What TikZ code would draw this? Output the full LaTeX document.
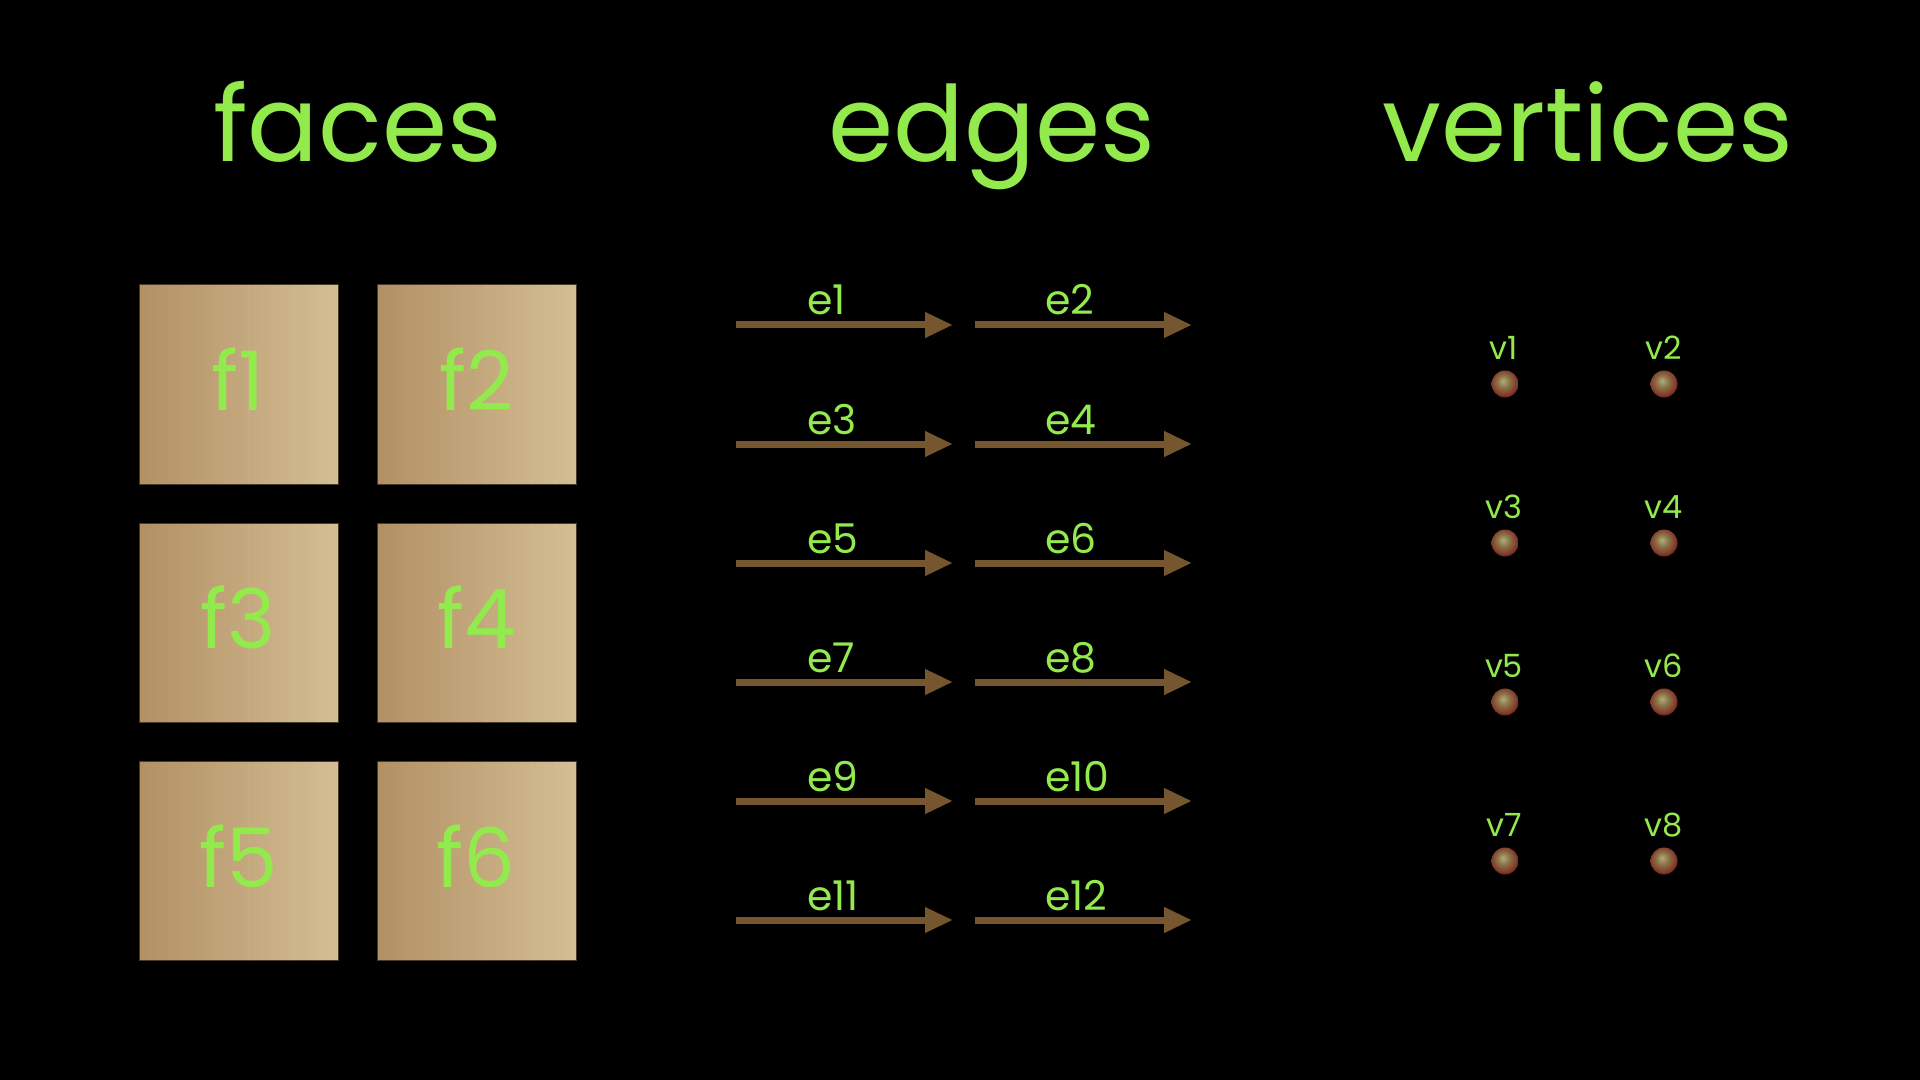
\documentclass[tikz,border=0pt]{standalone}
\usepackage{fontspec}
\setmainfont{Poppins}
\usetikzlibrary{arrows.meta,shadings,calc}
\definecolor{lbl}{RGB}{146,234,76}
\definecolor{card}{RGB}{178,144,100}
\definecolor{cardmid}{RGB}{186,154,110}
\definecolor{cardlight}{RGB}{212,190,148}
\definecolor{shaft}{RGB}{118,86,46}
\definecolor{vhi}{RGB}{175,172,125}
\definecolor{vmid}{RGB}{138,112,68}
\definecolor{vedge}{RGB}{130,60,45}
\definecolor{vdark}{RGB}{110,35,35}
\pgfdeclareradialshading{vball}{\pgfpoint{-4bp}{6bp}}{color(0bp)=(vhi); color(12bp)=(vmid); color(23bp)=(vedge); color(27bp)=(vdark); color(50bp)=(vdark)}
\tikzset{
  title/.style={text=lbl, font=\fontsize{52.5pt}{58pt}\selectfont, anchor=base, inner sep=0pt},
  facebox/.style={rectangle, minimum width=99.5pt, minimum height=99.5pt, inner sep=0pt,
     left color=card, middle color=cardmid, right color=cardlight, draw=black!60!card, line width=0.5pt},
  facetext/.style={text=lbl, font=\fontsize{41pt}{44pt}\selectfont, inner sep=0pt},
  edgearrow/.style={draw=shaft, line width=3.5pt, -{Triangle[length=14pt,width=12pt]}},
  elabel/.style={text=lbl, font=\fontsize{20.5pt}{22pt}\selectfont, anchor=base west, inner sep=0pt},
  vert/.style={circle, minimum size=13.5pt, inner sep=0pt, shading=vball},
  vlabel/.style={text=lbl, font=\fontsize{16pt}{18pt}\selectfont, anchor=base, inner sep=0pt}
}
\begin{document}
\begin{tikzpicture}[x=0.5pt,y=-0.5pt]
\fill[black] (0,0) rectangle (1920,1080);
\useasboundingbox (0,0) rectangle (1920,1080);
% titles
\node[title] (tf) at (358,162) {faces};
\node[title] (te) at (992,162) {edges};
\node[title] (tv) at (1588,162) {vertices};
% faces
\foreach \n/\x/\y in {1/238.5/384.5, 2/476.5/384.5, 3/238.5/622.5, 4/476.5/622.5, 5/238.5/861, 6/476.5/861}{
  \node[facebox] (f\n) at (\x,\y) {};
  \foreach \s in {0.55,0.78,0.9}{
    \draw[cardlight!70!white, opacity=0.1, line width=0.4pt]
      ($(f\n.south west)!\s!(f\n.south east)$) -- ($(f\n.north west)!\s!(f\n.north east)$);
  }
  \node[facetext] (lf\n) at ([yshift=2.5pt]f\n.center) {f\n};
}
% edges
\foreach \r in {0,...,5}{
  \pgfmathsetmacro{\yy}{325+119*\r}
  \pgfmathtruncatemacro{\na}{2*\r+1}
  \pgfmathtruncatemacro{\nb}{2*\r+2}
  \coordinate (e\na s) at (736,\yy);
  \coordinate (e\na e) at (953,\yy);
  \coordinate (e\nb s) at (975,\yy);
  \coordinate (e\nb e) at (1192,\yy);
  \draw[edgearrow] (e\na s) -- (e\na e);
  \draw[edgearrow] (e\nb s) -- (e\nb e);
  \node[elabel] (le\na) at (807,\yy-10) {e\na};
  \node[elabel] (le\nb) at (1045,\yy-10) {e\nb};
}
% vertices
\foreach \r in {0,...,3}{
  \pgfmathsetmacro{\yy}{384+159*\r}
  \pgfmathtruncatemacro{\na}{2*\r+1}
  \pgfmathtruncatemacro{\nb}{2*\r+2}
  \node[vert] (v\na) at (1505,\yy) {};
  \node[vert] (v\nb) at (1664,\yy) {};
  \node[vlabel] (lv\na) at (1504,\yy-25) {v\na};
  \node[vlabel] (lv\nb) at (1664,\yy-25) {v\nb};
}
\end{tikzpicture}
\end{document}
